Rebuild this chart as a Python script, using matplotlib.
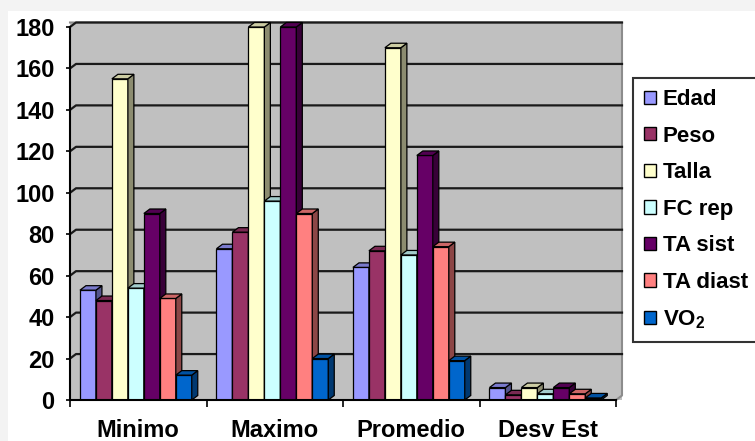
import matplotlib
matplotlib.use("Agg")
import matplotlib.pyplot as plt
from matplotlib.patches import Rectangle, Patch
import matplotlib.colors as mcolors
import numpy as np

categories = ["Minimo", "Maximo", "Promedio", "Desv Est"]
series_names = ["Edad", "Peso", "Talla", "FC rep", "TA sist", "TA diast", "VO$_2$"]
series_colors = ["#9999FF", "#993366", "#FFFFCC", "#CCFFFF", "#660066", "#FF8080", "#0066CC"]
edad = [53, 73, 64, 6]
peso = [48, 81, 72, 2.5]
talla = [155, 180, 170, 6]
fc_rep = [54, 96, 70, 3]
ta_sist = [90, 180, 118, 6]
ta_diast = [49, 90, 74, 3]
vo2 = [12, 20, 19, 1]
series_values = [edad, peso, talla, fc_rep, ta_sist, ta_diast, vo2]
y_ticks = [0, 20, 40, 60, 80, 100, 120, 140, 160, 180]

plt.rcParams['font.family'] = ['Liberation Sans', 'DejaVu Sans']
plt.rcParams['font.weight'] = 'bold'
plt.rcParams['mathtext.fontset'] = 'custom'
plt.rcParams['mathtext.rm'] = 'Liberation Sans:bold'
plt.rcParams['mathtext.it'] = 'Liberation Sans:bold'
plt.rcParams['mathtext.bf'] = 'Liberation Sans:bold'

W, H = 755, 441
fig = plt.figure(figsize=(W / 100, H / 100), dpi=100)
fig.patch.set_facecolor('white')
# light gray outer border (top and left)
fig.patches.append(Rectangle((0, 1 - 11 / H), 1, 11 / H, transform=fig.transFigure,
                             facecolor='#f3f3f3', edgecolor='none', zorder=0))
fig.patches.append(Rectangle((0, 0), 8 / W, 1, transform=fig.transFigure,
                             facecolor='#f3f3f3', edgecolor='none', zorder=0))

x0, x1 = 70, 616
ytop, ybot = 27, 400
ax = fig.add_axes([x0 / W, 1 - ybot / H, (x1 - x0) / W, (ybot - ytop) / H])
ax.set_xlim(0, 4)
ax.set_ylim(0, 180)
ax.patch.set_visible(False)

pxx = (x1 - x0) / 4.0
pxy = (ybot - ytop) / 180.0
dx = 6 / pxx
dy = 4.5 / pxy

# back wall
wall = Rectangle((0, 0), 4 + dx, 180 + dy, facecolor='#c0c0c0', edgecolor='none',
                 clip_on=False, zorder=0)
ax.add_patch(wall)
ax.plot([0, 4 + dx, 4 + dx, 4], [180 + dy, 180 + dy, dy, 0], color='#8c8c8c', lw=1.5,
        clip_on=False, zorder=0.5)
for v in y_ticks[1:]:
    ax.plot([0, dx, 4 + dx], [v, v + dy, v + dy], color='#1a1a1a', lw=1.6,
            clip_on=False, zorder=1)

def shade(c, f):
    r, g, b = mcolors.to_rgb(c)
    return (r * f, g * f, b * f)

bw = 0.117
start = 0.073
for i, (name, vals, col) in enumerate(zip(series_names, series_values, series_colors)):
    lefts = np.arange(len(categories)) + start + i * bw
    z = 3 + i
    ax.bar(lefts, vals, width=bw, align='edge', color=col, edgecolor='black',
           linewidth=0.9, zorder=z, label=name)
    for l, v in zip(lefts, vals):
        side = [(l + bw, 0), (l + bw + dx, dy), (l + bw + dx, v + dy), (l + bw, v)]
        top = [(l, v), (l + bw, v), (l + bw + dx, v + dy), (l + dx, v + dy)]
        ax.fill(*zip(*side), facecolor=shade(col, 0.55), edgecolor='black',
                linewidth=0.9, zorder=z, clip_on=False)
        ax.fill(*zip(*top), facecolor=shade(col, 0.8), edgecolor='black',
                linewidth=0.9, zorder=z, clip_on=False)

for s in ['top', 'right']:
    ax.spines[s].set_visible(False)
ax.spines['left'].set_linewidth(1.5)
ax.spines['bottom'].set_linewidth(1.5)
ax.spines['left'].set_zorder(20)
ax.spines['bottom'].set_zorder(20)

ax.set_yticks(y_ticks)
ax.set_yticklabels([str(t) for t in y_ticks], fontsize=17, fontweight='bold')
ax.tick_params(axis='y', direction='out', length=3, width=1.2, pad=8)
ax.set_xticks(np.arange(len(categories)) + 0.5)
ax.set_xticklabels(categories, fontsize=17, fontweight='bold')
ax.set_xticks(np.arange(len(categories) + 1), minor=True)
ax.tick_params(axis='x', which='major', length=0, pad=14)
ax.tick_params(axis='x', which='minor', direction='out', length=5, width=1.2)

handles = [Patch(facecolor=c, edgecolor='black', linewidth=1.0) for c in series_colors]
leg = fig.legend(handles, series_names, loc='upper left',
                 bbox_to_anchor=(633 / W, 1 - 78 / H), frameon=True, fancybox=False,
                 prop={'family': ['Liberation Sans', 'DejaVu Sans'], 'weight': 'bold', 'size': 16},
                 handlelength=0.55, handleheight=0.55, handletextpad=0.3,
                 labelspacing=0.70, borderpad=0.5, borderaxespad=0)
leg.get_frame().set_edgecolor('black')
leg.get_frame().set_linewidth(1.5)

fig.savefig('out.png', dpi=100)
